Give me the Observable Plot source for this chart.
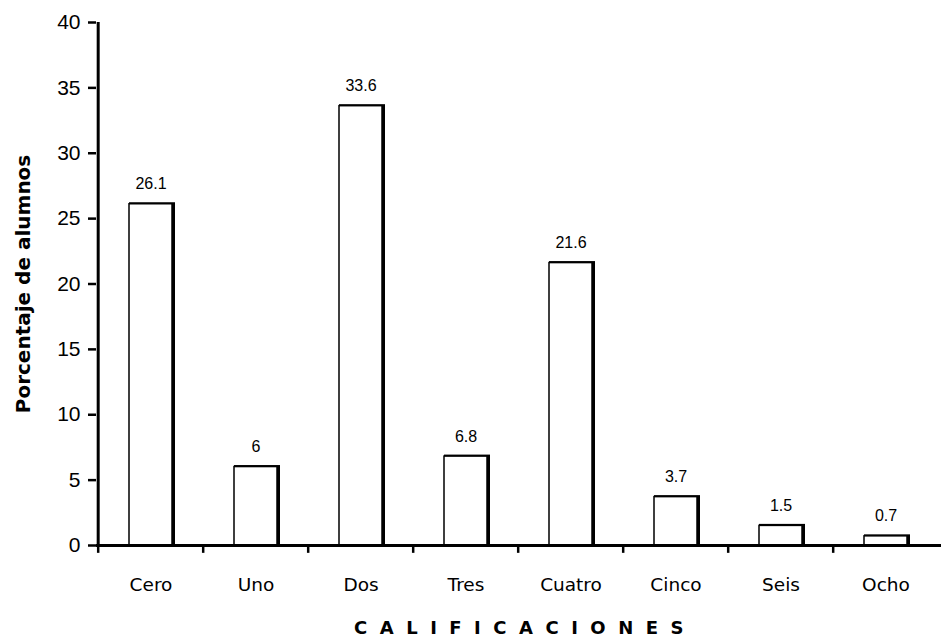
<!DOCTYPE html>
<html>
<head>
<meta charset="utf-8">
<script src="https://cdn.jsdelivr.net/npm/d3@7"></script>
<script src="https://cdn.jsdelivr.net/npm/@observablehq/plot@0.6"></script>
<style>
  html, body { margin: 0; padding: 0; background: white; }
  g[aria-label="x-axis tick label"] text { font-family: "DejaVu Sans", sans-serif; }
</style>
</head>
<body>
<div id="chart"></div>
<script>
// Grades obtained and share of students for each one
const categories = ["Cero", "Uno", "Dos", "Tres", "Cuatro", "Cinco", "Seis", "Ocho"];
const percentages = [26.1, 6, 33.6, 6.8, 21.6, 3.7, 1.5, 0.7];
const yTicks = [0, 5, 10, 15, 20, 25, 30, 35, 40];
const yTitle = "Porcentaje de alumnos";
const xTitle = "CALIFICACIONES";

const data = categories.map((grade, i) => ({grade, pct: percentages[i]}));

const W = 941, H = 644;
const mL = 96, mR = 0, mT = 22, mB = 99;
const step = (W - mL - mR) / categories.length;

const chart = Plot.plot({
  width: W,
  height: H,
  marginLeft: mL,
  marginRight: mR,
  marginTop: mT,
  marginBottom: mB,
  style: {fontFamily: "Liberation Sans, Arial, sans-serif", background: "white", color: "black"},
  x: {domain: categories, paddingInner: 0.59, paddingOuter: 0.295, label: null},
  y: {domain: [0, 40], label: null},
  marks: [
    // heavier outline offset to the right, giving each bar a thick right edge
    Plot.barY(data, {x: "grade", y: "pct", fill: "none", stroke: "black", strokeWidth: 3, dx: 1.5}),
    Plot.barY(data, {x: "grade", y: "pct", fill: "white", stroke: "black", strokeWidth: 1.5}),
    // axis lines
    Plot.ruleY([0], {stroke: "black", strokeWidth: 3}),
    Plot.ruleX([categories[0]], {x: d => d, y1: 0, y2: 40, dx: -step / 2, stroke: "black", strokeWidth: 3}),
    // x ticks between categories
    Plot.ruleX(categories, {x: d => d, y1: 0, y2: -0.6, dx: -step / 2, stroke: "black", strokeWidth: 2.5}),
    Plot.axisY({ticks: yTicks, tickSize: 8, tickPadding: 8, fontSize: 21, strokeWidth: 2.5}),
    Plot.axisX({tickSize: 0, tickPadding: 32, fontSize: 18.5}),
    // value labels
    Plot.text(data, {x: "grade", y: "pct", text: d => String(d.pct), dy: -20, fontSize: 16}),
    // axis titles
    Plot.text([yTitle], {frameAnchor: "left", dx: -73, rotate: -90, textAnchor: "middle", fontSize: 20, fontWeight: "bold", fontFamily: "DejaVu Sans, sans-serif"}),
    Plot.text([xTitle], {frameAnchor: "bottom", dy: 88, dx: 6, fontSize: 18, fontWeight: "bold", fontFamily: "DejaVu Sans, sans-serif"})
  ]
});

// spread out the letters of the horizontal title
d3.select(chart).selectAll("text")
  .filter(function() { return this.textContent === xTitle; })
  .style("letter-spacing", "12.5px");

document.getElementById("chart").appendChild(chart);
</script>
</body>
</html>
